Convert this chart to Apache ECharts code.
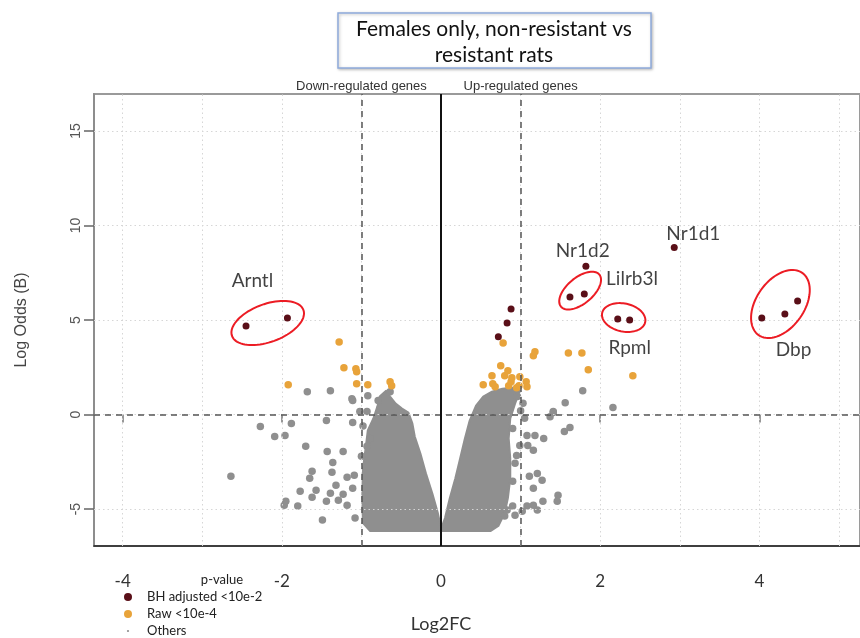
<!DOCTYPE html>
<html>
<head>
<meta charset="utf-8">
<title>Females only, non-resistant vs resistant rats</title>
<script src="https://cdn.jsdelivr.net/npm/echarts@6/dist/echarts.min.js"></script>
<style>
  html, body { margin: 0; padding: 0; background: #fff; }
  #volcano { width: 860px; height: 638px; }
</style>
</head>
<body>
<div id="volcano"></div>
<script>
  // [log2FC, log odds]
  const bhAdjusted = [
    [-2.45, 4.68], [-1.93, 5.11],
    [0.72, 4.11], [0.83, 4.84], [0.88, 5.58],
    [1.62, 6.21], [1.80, 6.37], [1.82, 7.84],
    [2.22, 5.05], [2.37, 5.00],
    [2.93, 8.84],
    [4.03, 5.11], [4.32, 5.32], [4.48, 6.00]
  ];

  const rawP = [
    [-1.92, 1.58], [-1.28, 3.84], [-1.22, 2.47], [-1.07, 2.42], [-1.06, 2.26],
    [-1.06, 1.63], [-0.92, 1.58], [-0.64, 1.74], [-0.62, 1.53],
    [0.53, 1.58], [0.64, 2.05], [0.65, 1.63], [0.68, 1.47], [0.75, 2.58],
    [0.78, 3.79], [0.80, 2.05], [0.84, 2.32], [0.85, 1.53], [0.88, 1.74],
    [0.89, 1.95], [0.95, 1.42], [0.98, 1.53], [0.99, 2.00], [1.07, 1.74],
    [1.08, 1.47], [1.16, 3.11], [1.18, 3.32], [1.60, 3.26], [1.77, 3.26],
    [1.85, 2.37], [2.41, 2.05]
  ];

  // grey genes sitting outside the dense cloud
  const othersScatter = [
    [-1.68, 1.21], [-1.39, 1.26], [-1.11, 0.74], [-1.12, 0.84], [-2.27, -0.63],
    [-1.88, -0.47], [-1.44, -0.32], [-1.11, -0.42], [-2.09, -1.16], [-1.96, -1.11],
    [-1.70, -1.68], [-1.43, -1.95], [-1.23, -1.95], [-1.36, -2.53], [-1.62, -3.00],
    [-1.65, -3.37], [-1.37, -3.05], [-1.18, -3.32], [-1.09, -3.21], [-2.64, -3.26],
    [-1.32, -3.74], [-1.77, -4.05], [-1.57, -4.00], [-1.62, -4.37], [-1.95, -4.58],
    [-1.97, -4.79], [-1.80, -4.84], [-1.39, -4.16], [-1.23, -4.21], [-1.11, -3.89],
    [-1.44, -4.58], [-1.29, -4.53], [-1.49, -5.58], [-1.08, -5.47], [-1.18, -4.79],
    [-1.02, 0.16], [-0.93, 0.16], [-0.93, -1.68], [-0.89, -1.26],
    [-0.92, 1.00], [-0.79, 0.74], [-0.64, 1.21], [-0.98, -0.60], [-1.00, -2.20],
    [1.78, 1.26], [2.16, 0.37], [1.56, 0.63], [1.41, 0.11], [1.37, -0.11],
    [1.55, -0.89], [1.62, -0.68], [1.08, -1.11], [1.18, -1.11], [1.29, -1.26],
    [1.09, -1.63], [1.16, -1.89], [1.11, -3.26], [1.21, -3.11], [1.27, -3.47],
    [1.16, -3.89], [1.47, -4.26], [1.46, -4.58], [1.28, -4.58], [1.16, -4.79],
    [1.08, -4.84], [1.21, -5.05], [0.93, -5.32], [1.02, -5.11], [0.80, -5.37],
    [0.83, -5.05], [0.90, -4.84], [0.90, -3.53], [0.93, -2.58], [0.95, -2.16],
    [0.99, -1.63], [0.90, -0.74], [1.41, 0.16],
    [1.03, 0.60], [1.00, 0.20], [1.05, -0.20], [0.96, 0.95]
  ];

  // outline of the dense grey cloud, one per wing
  const cloudLeft = [
    [0.01, -6.16], [-0.04, -5.21], [-0.11, -4.16], [-0.19, -3.11], [-0.26, -2.05],
    [-0.33, -1.16], [-0.36, -0.47], [-0.41, 0.11], [-0.49, 0.32], [-0.57, 0.58],
    [-0.64, 0.95], [-0.69, 1.26], [-0.77, 0.95], [-0.80, 0.42], [-0.85, -0.21],
    [-0.92, -0.84], [-0.94, -1.53], [-0.98, -2.84], [-0.99, -4.42], [-0.98, -5.74],
    [-0.89, -6.16]
  ];
  const cloudRight = [
    [-0.01, -6.16], [0.05, -5.47], [0.11, -4.42], [0.18, -3.37], [0.24, -2.32],
    [0.30, -1.26], [0.36, -0.32], [0.44, 0.47], [0.53, 0.95], [0.64, 1.21],
    [0.77, 1.37], [0.89, 1.42], [0.99, 1.26], [0.93, 0.58], [0.87, -0.21],
    [0.85, -1.26], [0.87, -2.32], [0.87, -3.37], [0.84, -4.42], [0.80, -5.21],
    [0.72, -5.89], [0.62, -6.16]
  ];

  const geneNames = ['Arntl', 'Nr1d2', 'Lilrb3l', 'Nr1d1', 'Rpml', 'Dbp'];
  const geneNamePos = [[-2.37, 7.05], [1.78, 8.63], [2.40, 7.16], [3.17, 9.58], [2.37, 3.53], [4.43, 3.42]];

  const xTicks = [-4, -2, 0, 2, 4];
  const yTicks = [-5, 0, 5, 10, 15];
  const gridX = [-4, -3, -2, -1, 0, 1, 2, 3, 4, 5];
  const gridY = [-5, 0, 5, 10, 15];
  const foldCut = [-1, 1];
  const foldCutNames = ['Down-regulated genes', 'Up-regulated genes'];

  const groupNames = ['BH adjusted <10e-2', 'Raw <10e-4', 'Others'];

  // red rings drawn round groups of bhAdjusted points (pixel sizes)
  const rings = [
    { genes: [0, 1], rx: 38, ry: 19, angle: -20, dx: 1, dy: 1 },
    { genes: [5, 6], rx: 25, ry: 13, angle: -40, dx: 3, dy: -5 },
    { genes: [8, 9], rx: 22, ry: 14, angle: 12, dx: 0, dy: -2 },
    { genes: [11, 12, 13], rx: 38, ry: 24, angle: -55, dx: -1, dy: -7 }
  ];

  const clouds = [cloudLeft, cloudRight];
  const calibri = 'Lato, "Open Sans", sans-serif';
  const arial = '"Liberation Sans", Arial, sans-serif';
  const colors = ['#5a0f18', '#e8a33a', '#8f8f8f'];
  const icons = ['circle', 'circle', 'path://M0 0M10 10M5 3.6a1.4 1.4 0 1 1 0 2.8a1.4 1.4 0 1 1 0-2.8z'];

  function renderCloud(params, api) {
    const pts = clouds[params.dataIndex].map(p => api.coord(p));
    return {
      type: 'polygon',
      shape: { points: pts },
      style: { fill: colors[2], stroke: colors[2], lineWidth: 2, lineJoin: 'round' }
    };
  }

  function renderRing(params, api) {
    const r = rings[params.dataIndex];
    let cx = 0, cy = 0;
    r.genes.forEach(i => {
      const c = api.coord(bhAdjusted[i]);
      cx += c[0]; cy += c[1];
    });
    cx = cx / r.genes.length + r.dx;
    cy = cy / r.genes.length + r.dy;
    const a = r.angle * Math.PI / 180;
    const pts = [];
    for (let k = 0; k < 80; k++) {
      const t = k / 80 * Math.PI * 2;
      const ex = r.rx * Math.cos(t), ey = r.ry * Math.sin(t);
      pts.push([cx + ex * Math.cos(a) - ey * Math.sin(a), cy + ex * Math.sin(a) + ey * Math.cos(a)]);
    }
    return {
      type: 'polygon',
      shape: { points: pts },
      style: { fill: 'none', stroke: '#ec1c24', lineWidth: 2 }
    };
  }

  const xMin = -4.36, xMax = 5.264;
  const yMin = -6.95, yMax = 16.95;

  // one legend per row so they never wrap into columns
  const legends = groupNames.map((n, i) => ({
    orient: 'vertical',
    left: 124, top: 589.5 + i * 17,
    padding: 0,
    itemWidth: 28, itemHeight: 8,
    selectedMode: false,
    textStyle: { fontFamily: calibri, fontSize: 13, color: '#222', lineHeight: 15 },
    data: [{ name: n, icon: icons[i], itemStyle: { color: colors[i] } }]
  }));

  var option = {
    animation: false,
    grid: {
      left: 94, right: 0, top: 94, bottom: 90,
      show: true, borderColor: '#9a9a9a', borderWidth: 2
    },
    graphic: [
      {
        type: 'rect',
        shape: { x: 338, y: 13, width: 313, height: 55 },
        style: { fill: '#fff', stroke: '#8eaadb', lineWidth: 1.5, shadowBlur: 3, shadowColor: 'rgba(0,0,0,0.25)', shadowOffsetX: 1, shadowOffsetY: 1 }
      },
      {
        type: 'text',
        x: 494, y: 42,
        style: {
          text: 'Females only, non-resistant vs\nresistant rats',
          font: '21px ' + calibri, fill: '#111', align: 'center', verticalAlign: 'middle', lineHeight: 26
        }
      },
      {
        type: 'text',
        x: 222, y: 580,
        style: { text: 'p-value', font: '13px ' + calibri, fill: '#222', align: 'center', verticalAlign: 'middle' }
      }
    ],
    legend: legends,
    xAxis: [
      {
        type: 'value', min: xMin, max: xMax,
        axisLine: { show: true, onZero: false, lineStyle: { color: '#222', width: 1.5 } },
        axisTick: { show: false }, axisLabel: { show: false }, splitLine: { show: false }
      },
      {
        type: 'value', min: xMin, max: xMax, position: 'bottom', offset: 4,
        axisLine: { show: false },
        axisTick: { show: true, customValues: xTicks, length: 8, lineStyle: { color: '#777', width: 1.5 } },
        axisLabel: { customValues: xTicks, margin: 23, fontFamily: calibri, fontSize: 17, color: '#333' },
        splitLine: { show: false },
        name: 'Log2FC', nameLocation: 'middle', nameGap: 65,
        nameTextStyle: { fontFamily: calibri, fontSize: 18, color: '#333', padding: [0, 72, 0, 0] }
      }
    ],
    yAxis: {
      type: 'value', min: yMin, max: yMax,
      axisLine: { show: true, onZero: false, lineStyle: { color: '#888', width: 1.5 } },
      axisTick: { show: true, customValues: yTicks, length: 10, lineStyle: { color: '#666', width: 1.5 } },
      axisLabel: { customValues: yTicks, rotate: 90, margin: 11, fontFamily: arial, fontSize: 14, color: '#555' },
      splitLine: { show: false },
      name: 'Log Odds (B)', nameLocation: 'middle', nameGap: 64, nameRotate: 90,
      nameTextStyle: { fontFamily: arial, fontSize: 16, color: '#444' }
    },
    series: [
      {
        name: groupNames[2], type: 'custom', renderItem: renderCloud,
        data: clouds.map((c, i) => [i, 0]), silent: true, z: 2
      },
      {
        name: groupNames[2], type: 'scatter', data: othersScatter,
        symbolSize: 7.5, itemStyle: { color: colors[2], opacity: 1 }, z: 3
      },
      {
        name: groupNames[1], type: 'scatter', data: rawP,
        symbolSize: 7.5, itemStyle: { color: colors[1], opacity: 1 }, z: 4
      },
      {
        name: groupNames[0], type: 'scatter', data: bhAdjusted,
        symbolSize: 7, itemStyle: { color: colors[0], opacity: 1 }, z: 5
      },
      {
        type: 'scatter', data: [], z: 6, silent: true,
        markLine: {
          silent: true, symbol: 'none', animation: false,
          label: { show: false },
          lineStyle: { color: '#d6d6d6', width: 1, type: [1.5, 3] },
          data: gridX.map(v => ({ xAxis: v })).concat(gridY.map(v => ({ yAxis: v })))
        }
      },
      {
        type: 'scatter', data: [], z: 7, silent: true,
        markLine: {
          silent: true, symbol: 'none', animation: false,
          lineStyle: { color: '#555', width: 1.5, type: [6, 5] },
          label: {
            show: true, position: 'end', distance: 1, rotate: 0,
            fontFamily: arial, fontSize: 13, color: '#333',
            formatter: p => p.name
          },
          data: foldCut.map((v, i) => ({ xAxis: v, name: foldCutNames[i] }))
            .concat([{ yAxis: 0, label: { show: false } }])
        }
      },
      {
        type: 'scatter', data: [], z: 8, silent: true,
        markLine: {
          silent: true, symbol: 'none', animation: false, label: { show: false },
          lineStyle: { color: '#111', width: 2, type: 'solid' },
          data: [{ xAxis: 0 }]
        }
      },
      {
        type: 'custom', renderItem: renderRing,
        data: rings.map((r, i) => [i, 0]), silent: true, z: 9
      },
      {
        type: 'scatter', symbolSize: 0, silent: true, z: 10,
        data: geneNames.map((n, i) => ({ name: n, value: geneNamePos[i] })),
        label: { show: true, position: 'inside', formatter: '{b}', fontFamily: calibri, fontSize: 19, color: '#111' }
      }
    ]
  };

  var myChart = echarts.init(document.getElementById('volcano'));
  myChart.setOption(option);
</script>
</body>
</html>
